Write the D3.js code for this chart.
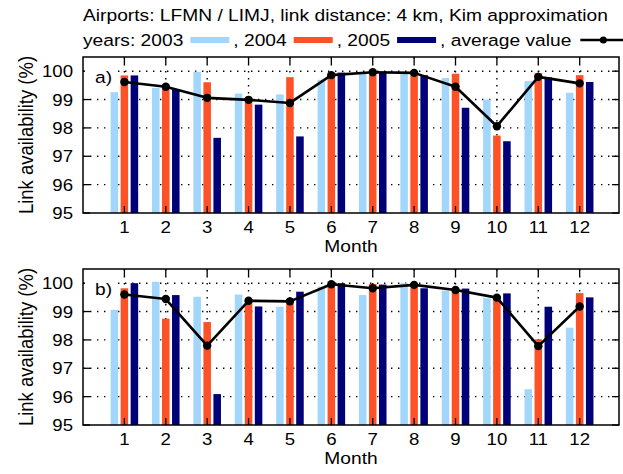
<!DOCTYPE html>
<html><head><meta charset="utf-8">
<script src="https://cdn.jsdelivr.net/npm/d3@7"></script>
<style>body{margin:0;background:#fff}svg{display:block}text{font-family:"Liberation Sans",Arial,sans-serif;fill:#000}</style>
</head><body><svg id="c" width="623" height="474"></svg>
<script>
const months = [1,2,3,4,5,6,7,8,9,10,11,12];
const yTicks = [95,96,97,98,99,100];
const seriesNames = ["2003","2004","2005"];
const a2003 = [99.26,99.41,99.98,99.21,99.18,99.70,99.90,99.93,99.76,99.00,99.65,99.24];
const a2004 = [99.85,99.47,99.61,98.98,99.79,99.92,99.96,99.97,99.91,97.73,99.93,99.86];
const a2005 = [99.85,99.35,97.65,98.82,97.70,99.95,99.97,99.86,98.71,97.53,99.78,99.62];
const aAvg  = [99.62,99.45,99.06,98.99,98.88,99.86,99.96,99.94,99.45,98.06,99.80,99.57];
const b2003 = [99.06,100.05,99.52,99.60,99.17,99.88,99.58,100.00,99.74,99.47,96.26,98.43];
const b2004 = [99.82,98.75,98.63,99.38,99.32,99.95,99.97,99.97,99.78,99.45,98.02,99.65];
const b2005 = [100.00,99.58,96.09,99.18,99.70,100.00,99.95,99.82,99.81,99.64,99.17,99.50];
const bAvg  = [99.60,99.44,97.80,99.38,99.36,99.96,99.82,99.94,99.76,99.49,97.78,99.18];
const titleText = "Airports: LFMN / LIMJ, link distance: 4 km, Kim approximation";
const legendPrefix = ["years: ", ", ", ", "];
const avgLabel = ", average value";
const colors = ["#a2d7fb","#ff5127","#000078"];

const SX = 1.13;
const svg = d3.select("#c");
function txt(g, s, x, y, size, anchor, extra){
  const t = g.append("text").attr("transform",`translate(${x},${y}) scale(${SX},1)`)
    .attr("font-size",size).attr("text-anchor",anchor||"start").text(s);
  return t;
}
const L = 83, R = 619;
const x = d3.scaleLinear().domain([0,12.95]).range([L,R]);
const off = [-0.242, 0, 0.242], bw = 0.182;

function panel(top, bottom, data, avg, tag){
  const y = d3.scaleLinear().domain([95,100.5]).range([bottom, top]);
  const g = svg.append("g");
  // grid
  const grid = g.append("g").attr("stroke","#000").attr("stroke-width",1.4).attr("stroke-dasharray","1.4,5.6");
  grid.selectAll(".h").data(yTicks.filter(d=>d>95)).join("line")
    .attr("x1",L).attr("x2",R).attr("y1",d=>y(d)).attr("y2",d=>y(d));
  grid.selectAll(".v").data(months).join("line")
    .attr("x1",d=>x(d)).attr("x2",d=>x(d)).attr("y1",top).attr("y2",bottom);
  // bars
  data.forEach((vals,si)=>{
    g.append("g").attr("fill",colors[si]).selectAll("rect").data(vals).join("rect")
      .attr("x",(d,i)=>x(months[i]+off[si]-bw/2))
      .attr("width",x(bw)-x(0))
      .attr("y",d=>y(d)).attr("height",d=>y(95)-y(d));
  });
  // average line
  const line = d3.line().x((d,i)=>x(months[i])).y(d=>y(d));
  g.append("path").datum(avg).attr("d",line).attr("fill","none").attr("stroke","#000").attr("stroke-width",2.6).attr("stroke-linejoin","round");
  g.append("g").selectAll("circle").data(avg).join("circle")
    .attr("cx",(d,i)=>x(months[i])).attr("cy",d=>y(d)).attr("r",4.2).attr("fill","#000");
  // frame and ticks
  g.append("rect").attr("x",L).attr("y",top).attr("width",R-L).attr("height",bottom-top)
    .attr("fill","none").attr("stroke","#000").attr("stroke-width",1.5);
  const tk = g.append("g").attr("stroke","#000").attr("stroke-width",1.3);
  months.forEach(m=>{
    tk.append("line").attr("x1",x(m)).attr("x2",x(m)).attr("y1",top).attr("y2",top+7);
    tk.append("line").attr("x1",x(m)).attr("x2",x(m)).attr("y1",bottom).attr("y2",bottom-7);
  });
  yTicks.forEach(v=>{
    tk.append("line").attr("x1",L).attr("x2",L+7).attr("y1",y(v)).attr("y2",y(v));
    tk.append("line").attr("x1",R).attr("x2",R-7).attr("y1",y(v)).attr("y2",y(v));
  });
  // tick labels
  yTicks.forEach(v=>{ txt(g, String(v), 73, y(v)+6, 16.5, "end"); });
  months.forEach(m=>{ txt(g, String(m), x(m), bottom+20, 16.5, "middle"); });
  txt(g, "Month", (L+R)/2, bottom+39, 17, "middle");
  // panel tag
  g.append("rect").attr("x",L+2).attr("y",top+5).attr("width",30).attr("height",26).attr("fill","#fff");
  txt(g, tag, L+12, y(100)+12, 17, "start");
  // y label
  g.append("text").attr("transform",`translate(33,${(top+bottom)/2}) rotate(-90) scale(1,${SX})`)
    .attr("font-size",18.5).attr("text-anchor","middle").text("Link availability (%)");
}
panel(57, 213, [a2003,a2004,a2005], aAvg, "a)");
panel(269, 425, [b2003,b2004,b2005], bAvg, "b)");

// title and legend
txt(svg, titleText, 83, 21, 17, "start");
let cx = 83;
const ly = 46, sy = 40;
seriesNames.forEach((n,i)=>{
  const t = txt(svg, legendPrefix[i]+n, cx, ly, 17, "start");
  cx += t.node().getComputedTextLength()*SX + 7;
  svg.append("rect").attr("x",cx).attr("y",sy-3).attr("width",39).attr("height",6).attr("fill",colors[i]);
  cx += 39 + 4;
});
const t2 = txt(svg, avgLabel, cx, ly, 17, "start");
cx += t2.node().getComputedTextLength()*SX + 9;
svg.append("line").attr("x1",cx).attr("x2",cx+46).attr("y1",sy).attr("y2",sy).attr("stroke","#000").attr("stroke-width",2.6);
svg.append("circle").attr("cx",cx+23).attr("cy",sy).attr("r",3.5).attr("fill","#000");
</script></body></html>
